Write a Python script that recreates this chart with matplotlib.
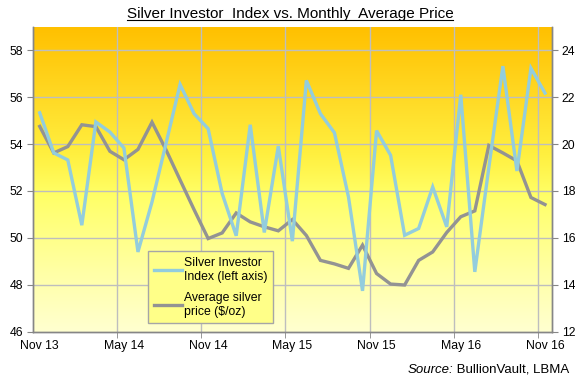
import numpy as np
import matplotlib
matplotlib.use("Agg")
import matplotlib.pyplot as plt
from matplotlib.colors import LinearSegmentedColormap
from matplotlib.lines import Line2D

plt.rcParams['font.family'] = ['Liberation Sans', 'DejaVu Sans']

# ---- data ----
months = ["Nov 13", "Dec 13", "Jan 14", "Feb 14", "Mar 14", "Apr 14", "May 14", "Jun 14",
          "Jul 14", "Aug 14", "Sep 14", "Oct 14", "Nov 14", "Dec 14", "Jan 15", "Feb 15",
          "Mar 15", "Apr 15", "May 15", "Jun 15", "Jul 15", "Aug 15", "Sep 15", "Oct 15",
          "Nov 15", "Dec 15", "Jan 16", "Feb 16", "Mar 16", "Apr 16", "May 16", "Jun 16",
          "Jul 16", "Aug 16", "Sep 16", "Oct 16", "Nov 16"]
investor_index = [55.33, 53.62, 53.32, 50.54, 54.94, 54.51, 53.83, 49.40, 51.53, 54.03,
                  56.54, 55.29, 54.65, 51.89, 50.09, 54.82, 50.23, 53.91, 49.86, 56.71,
                  55.29, 54.48, 51.74, 47.74, 54.57, 53.52, 50.11, 50.40, 52.17, 50.47,
                  56.10, 48.55, 53.00, 57.32, 52.85, 57.23, 56.17]
silver_price = [20.75, 19.62, 19.89, 20.82, 20.74, 19.69, 19.33, 19.77, 20.93, 19.75,
                18.47, 17.20, 15.97, 16.21, 17.06, 16.68, 16.47, 16.30, 16.78, 16.10,
                15.04, 14.89, 14.70, 15.69, 14.48, 14.03, 13.99, 15.04, 15.40, 16.23,
                16.90, 17.15, 19.94, 19.62, 19.28, 17.72, 17.42]
label_every = 6
left_ticks = [46, 48, 50, 52, 54, 56, 58]
right_ticks = [12, 14, 16, 18, 20, 22, 24]

x = np.arange(len(months))

fig = plt.figure(figsize=(5.75, 3.79), dpi=100)
fig.patch.set_facecolor('white')
ax = fig.add_axes([32.7 / 575, 47.3 / 379, (552 - 32.7) / 575, (331.7 - 26.7) / 379])
ax2 = ax.twinx()
# blue on top
ax.set_zorder(ax2.get_zorder() + 1)
ax.patch.set_visible(False)

xmin, xmax = -0.5, len(months) - 0.5
ax.set_xlim(xmin, xmax)
ax.set_ylim(46, 59)
ax2.set_ylim(12, 25)

# gradient background on ax2
cmap = LinearSegmentedColormap.from_list('bg', [
    (0.0, '#FFC000'), (0.25, '#FFDC28'), (0.42, '#FFF040'),
    (0.55, '#FFFF66'), (0.8, '#FFFFA4'), (1.0, '#FFFFD0')])
grad = np.linspace(0, 1, 256).reshape(-1, 1)
ax2.imshow(grad, cmap=cmap, aspect='auto', extent=[xmin, xmax, 12, 25],
           origin='upper', zorder=0, interpolation='bilinear')
ax2.set_xlim(xmin, xmax)
ax2.set_ylim(12, 25)

grid_c = '#BEBEBE'
for b in np.arange(label_every - 0.5, len(months) - 0.5, label_every):
    ax2.axvline(b, color=grid_c, lw=1.0, zorder=1)
for t in right_ticks[1:]:
    ax2.axhline(t, color=grid_c, lw=1.0, zorder=1)

ax2.plot(x, silver_price, color='#939393', lw=2.4, zorder=3, solid_joinstyle='miter')
ax.plot(x, investor_index, color='#93CDDD', lw=2.4, zorder=3, solid_joinstyle='miter')

# axes styling
spine_c = '#868686'
for a in (ax, ax2):
    a.spines['top'].set_visible(False)
    for s in ('left', 'right', 'bottom'):
        a.spines[s].set_color(spine_c)
        a.spines[s].set_linewidth(1.0)

ax.set_yticks(left_ticks)
ax.set_yticklabels([str(t) for t in left_ticks])
ax2.set_yticks(right_ticks)
ax2.set_yticklabels([str(t) for t in right_ticks])
ax.set_xticks(x[::label_every])
ax.set_xticklabels(months[::label_every])
ax.set_xticks(np.arange(label_every - 0.5, len(months) - 0.5, label_every), minor=True)
ax.tick_params(axis='x', which='major', length=0, labelsize=8.8, pad=6)
ax.tick_params(axis='x', which='minor', length=4, color=spine_c, direction='out')
ax.tick_params(axis='y', length=4, color=spine_c, labelsize=8.8, pad=3)
ax2.tick_params(axis='y', length=4, color=spine_c, labelsize=8.8, pad=3)
ax2.tick_params(axis='y', which='minor', length=0)

handles = [Line2D([0], [0], color='#93CDDD', lw=2.4),
           Line2D([0], [0], color='#939393', lw=2.4)]
leg = ax.legend(handles, ['Silver Investor\nIndex (left axis)', 'Average silver\nprice ($/oz)'],
                loc='lower left', bbox_to_anchor=(148 / 575, 56 / 379),
                bbox_transform=fig.transFigure, fontsize=8.8, frameon=True,
                fancybox=False, handlelength=2.3, handletextpad=0.2,
                labelspacing=0.75, borderpad=0.45, borderaxespad=0)
leg.get_frame().set_facecolor('#FFFF88')
leg.get_frame().set_edgecolor('#A6A6A6')
leg.get_frame().set_alpha(1)
leg.get_frame().set_linewidth(1.0)

title = fig.text(290 / 575, 1 - 14 / 379, 'Silver Investor  Index vs. Monthly  Average Price',
                 ha='center', va='center', fontsize=11)

src = fig.text(569 / 575, 1 - 370 / 379, ' BullionVault, LBMA', ha='right', va='center',
               fontsize=9.5)

fig.canvas.draw()
r = fig.canvas.get_renderer()
bb = title.get_window_extent(r)
inv = fig.transFigure.inverted()
(x0, y0) = inv.transform((bb.x0, bb.y0 + 1))
(x1, _) = inv.transform((bb.x1, bb.y0 + 1))
fig.add_artist(Line2D([x0, x1], [y0, y0], transform=fig.transFigure, color='black', lw=0.8))
sb = src.get_window_extent(r)
sx, _ = inv.transform((sb.x0, sb.y0))
fig.text(sx, 1 - 370 / 379, 'Source:', ha='right', va='center', fontsize=9.5, style='italic')

fig.savefig('out.png', dpi=100)
